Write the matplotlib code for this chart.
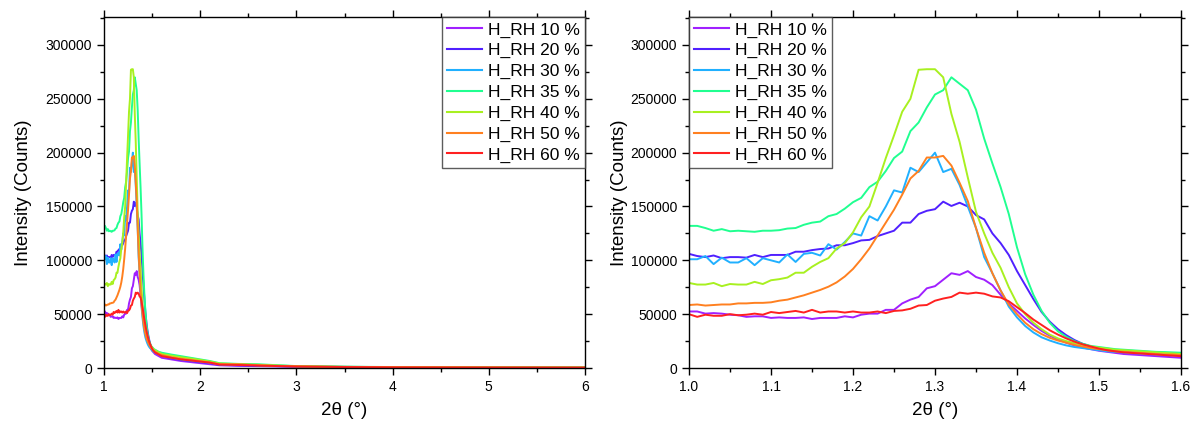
import numpy as np
import matplotlib
matplotlib.use('Agg')
import matplotlib.pyplot as plt
from matplotlib.ticker import MultipleLocator

plt.rcParams['font.family'] = ['Liberation Sans', 'DejaVu Sans']

# 2theta grid of the zoomed region (1.00 .. 1.60, step 0.01)
two_theta = np.round(np.arange(1.00, 1.605, 0.01), 2)
# sparse tail
two_theta_tail = [1.7, 1.8, 1.9, 2.0, 2.1, 2.2, 2.4, 2.6, 2.8, 3.0, 3.5, 4.0, 5.0, 6.0]

labels = ['H_RH 10 %', 'H_RH 20 %', 'H_RH 30 %', 'H_RH 35 %',
          'H_RH 40 %', 'H_RH 50 %', 'H_RH 60 %']
colors = ['#A020FF', '#5020FF', '#20B0FF', '#20FF90', '#A8F020', '#FF8020', '#FF2020']

rh10 = [52500, 52500, 50500, 51000, 50500, 49500, 49000, 47500, 48000, 48000,
        46500, 47000, 46500, 46500, 47000, 45500, 46500, 46500, 46500, 48000,
        47000, 49500, 50500, 50500, 54000, 54000, 60000, 63500, 66000, 74000,
        76000, 82000, 88000, 86500, 90000, 84500, 82000, 77000, 68000, 60000,
        53000, 46000, 40000, 34500, 30000, 26500, 23500, 21000, 19000, 17500,
        16000, 15000, 14000, 13000, 12500, 12000, 11500, 11000, 10500, 10000, 9500]
rh20 = [106000, 104000, 103000, 104500, 102000, 103000, 103000, 102500, 105000, 103000,
        105000, 105000, 105000, 108000, 108000, 109500, 110500, 111000, 114000, 114000,
        116000, 118500, 119000, 122500, 125000, 127500, 135000, 135000, 143000, 146000,
        147500, 154500, 150500, 153500, 150000, 142000, 138000, 125000, 116000, 105000,
        90000, 77000, 64000, 52000, 43000, 36000, 30500, 26000, 22500, 20000,
        17500, 16500, 15500, 15000, 14500, 14000, 13500, 13000, 12500, 12000, 11500]
rh30 = [101000, 101000, 104000, 96500, 102500, 98000, 98000, 102000, 95500, 102000,
        100000, 98000, 105500, 98500, 106000, 107000, 104500, 115000, 110000, 117000,
        125000, 123000, 141000, 137000, 150000, 165000, 163000, 186000, 182000, 191000,
        200000, 182000, 185000, 170000, 150000, 130000, 103000, 88000, 72000, 57000,
        47000, 39000, 33000, 28500, 25500, 23000, 21000, 19500, 18500, 17500,
        16500, 15500, 15000, 14500, 14000, 13500, 13000, 12500, 12000, 12000, 11500]
rh35 = [132000, 132000, 130000, 127500, 129000, 127000, 127500, 127000, 126500, 127500,
        127500, 128000, 129500, 130000, 133000, 135000, 136000, 141000, 143000, 148000,
        154000, 158000, 168000, 173000, 183000, 195000, 201000, 220000, 228000, 242000,
        254000, 258000, 270000, 264000, 258000, 240000, 213000, 190000, 168000, 143000,
        112000, 87000, 68000, 53000, 42000, 34000, 29000, 25000, 22500, 20500,
        19500, 18500, 17500, 17000, 16500, 16000, 15500, 15000, 14800, 14500, 14200]
rh40 = [79000, 77500, 77500, 79000, 76000, 78000, 77500, 77500, 80000, 78000,
        81500, 82500, 84000, 88500, 88500, 94000, 98500, 102000, 111000, 116000,
        126000, 140000, 150000, 172000, 195000, 216000, 238000, 250000, 277000, 277500,
        277500, 270000, 236000, 210000, 177000, 145000, 125000, 107000, 93000, 75000,
        60000, 50000, 42000, 36000, 31000, 27500, 25000, 23000, 21500, 20000,
        19000, 18000, 17000, 16500, 16000, 15500, 15000, 14500, 14000, 13500, 13000]
rh50 = [58500, 59000, 58000, 58500, 59000, 59000, 60000, 60000, 60500, 60500,
        61000, 62500, 63500, 65500, 67500, 70000, 72500, 75500, 79500, 85000,
        92000, 101000, 111000, 123000, 135000, 147000, 161000, 176000, 183000, 195500,
        195500, 197000, 188000, 172000, 155000, 130000, 107000, 88000, 72000, 59000,
        50000, 42000, 36000, 31500, 28000, 25500, 23500, 21500, 20000, 18500,
        17500, 16500, 15500, 15000, 14500, 14000, 13500, 13000, 12500, 12500, 12000]
rh60 = [50000, 47500, 49500, 48500, 48500, 50000, 49000, 49500, 50500, 49500,
        52000, 51000, 52000, 53000, 51500, 54000, 51500, 52500, 52500, 51500,
        52500, 51500, 51500, 52500, 51000, 53000, 53500, 55000, 58000, 58500,
        62500, 64500, 66000, 70000, 69000, 70000, 69000, 66500, 65500, 62000,
        56500, 51000, 45000, 40000, 35000, 31000, 27500, 24500, 22000, 20000,
        18000, 16500, 15500, 14500, 14000, 13500, 13000, 12500, 12000, 11500, 11000]

tail10 = [8000, 6500, 5500, 4500, 3500, 2500, 2000, 1700, 1400, 1100, 800, 600, 400, 300]
tail20 = [9000, 7500, 6500, 5500, 4500, 3000, 2500, 2200, 1800, 1400, 1000, 700, 500, 400]
tail30 = [9500, 8000, 7000, 6000, 5000, 3500, 3000, 2800, 2200, 1700, 1100, 800, 600, 500]
tail35 = [12500, 11000, 9500, 8000, 6500, 4500, 3800, 3500, 2600, 1800, 1200, 900, 700, 600]
tail40 = [11500, 10000, 8800, 7500, 6000, 4200, 3500, 3000, 2300, 1700, 1100, 800, 600, 500]
tail50 = [10000, 8500, 7500, 6300, 5200, 3500, 3500, 2500, 2000, 1500, 1000, 700, 500, 400]
tail60 = [9500, 8000, 7000, 6000, 5000, 3200, 2800, 2300, 1800, 1400, 900, 600, 450, 350]

series = [rh10, rh20, rh30, rh35, rh40, rh50, rh60]
tails = [tail10, tail20, tail30, tail35, tail40, tail50, tail60]

fig = plt.figure(figsize=(11.9, 4.21), dpi=100)
ax1 = fig.add_axes([104/1190, 1-368/421, 481/1190, 351/421])
ax2 = fig.add_axes([689/1190, 1-368/421, 492/1190, 351/421])

x_full = list(two_theta) + two_theta_tail
for y, t, c, lab in zip(series, tails, colors, labels):
    ax1.plot(x_full, list(y) + t, color=c, lw=1.4, label=lab)
    ax2.plot(two_theta, y, color=c, lw=1.4, label=lab)

ax1.set_xlim(1, 6)
ax1.xaxis.set_major_locator(MultipleLocator(1))
ax1.xaxis.set_minor_locator(MultipleLocator(0.5))
ax2.set_xlim(1.0, 1.6)
ax2.xaxis.set_major_locator(MultipleLocator(0.1))
ax2.xaxis.set_minor_locator(MultipleLocator(0.05))
ax2.xaxis.set_major_formatter(plt.FormatStrFormatter('%.1f'))

for ax, pad in ((ax1, 10), (ax2, 2)):
    ax.set_ylim(0, 326000)
    ax.yaxis.set_major_locator(MultipleLocator(50000))
    ax.yaxis.set_minor_locator(MultipleLocator(25000))
    ax.tick_params(which='both', direction='out', top=True, right=True,
                   labelsize=10, width=1)
    ax.tick_params(which='major', length=5)
    ax.tick_params(which='minor', length=3)
    for s in ax.spines.values():
        s.set_linewidth(1)
    ax.set_xlabel('2θ (°)', fontsize=13.5, labelpad=6)
    ax.set_ylabel('Intensity (Counts)', fontsize=13.5, labelpad=pad)

leg_kw = dict(fontsize=12.5, frameon=True, fancybox=False, edgecolor='#333333',
              borderaxespad=0, handlelength=2.0, handletextpad=0.35,
              labelspacing=0.32, borderpad=0.3)
l1 = ax1.legend(loc='upper right', **leg_kw)
l2 = ax2.legend(loc='upper left', **leg_kw)
for l in (l1, l2):
    l.get_frame().set_linewidth(1)
    for h in l.get_lines():
        h.set_linewidth(1.5)

fig.savefig('out.png', dpi=100)
